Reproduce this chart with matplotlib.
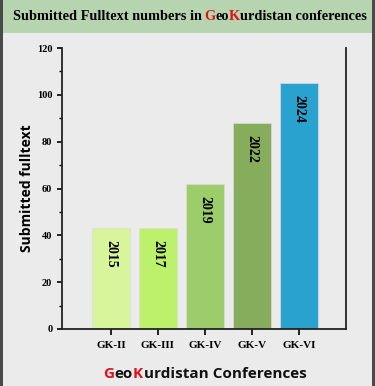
import matplotlib.pyplot as plt
from matplotlib.patches import Rectangle
from matplotlib.ticker import MultipleLocator

conferences = ["GK-II", "GK-III", "GK-IV", "GK-V", "GK-VI"]
years = ["2015", "2017", "2019", "2022", "2024"]
fulltexts = [43, 43, 62, 88, 105]
colors = ["#d8f59b", "#bdf06b", "#9dcc6a", "#86ad5c", "#2aa2cf"]

bg = "#ebebeb"
fig = plt.figure(figsize=(3.75, 3.86), dpi=100, facecolor=bg)

# title band and side borders (behind everything else)
fig.patches.append(Rectangle((0, 1 - 33 / 386), 1, 33 / 386, transform=fig.transFigure,
                             facecolor="#b5d4af", edgecolor="none", zorder=-2))
fig.patches.append(Rectangle((0, 0), 3 / 375, 1, transform=fig.transFigure,
                             facecolor="#4a4a4a", edgecolor="none", zorder=-1))
fig.patches.append(Rectangle((1 - 3 / 375, 0), 3 / 375, 1, transform=fig.transFigure,
                             facecolor="#4a4a4a", edgecolor="none", zorder=-1))

ax = fig.add_axes([62 / 375, 1 - 329 / 386, 284 / 375, 281 / 386])
ax.set_facecolor(bg)

x = list(range(len(conferences)))
ax.bar(x, fulltexts, width=0.8, color=colors, edgecolor="#dcdcdc", linewidth=0.5, zorder=2)

for xi, v, yr in zip(x, fulltexts, years):
    ax.text(xi, v - 5, yr, rotation=-90, ha="center", va="top",
            family="Liberation Serif", fontweight="bold", fontsize=10, zorder=3)

ax.set_xlim(-1.04, 5.0)
ax.set_ylim(0, 120)
ax.set_xticks(x)
ax.set_xticklabels(conferences, family="Liberation Serif", fontweight="bold", fontsize=8)
ax.yaxis.set_major_locator(MultipleLocator(20))
ax.yaxis.set_minor_locator(MultipleLocator(10))
for lab in ax.get_yticklabels():
    lab.set_family("Liberation Serif")
    lab.set_fontweight("bold")
    lab.set_fontsize(7.5)
ax.tick_params(axis="both", direction="out", width=1.2, length=3.5, pad=3.5)
ax.tick_params(axis="y", which="minor", direction="out", width=1.0, length=2)
ax.tick_params(axis="x", length=4, pad=5)

ax.spines["top"].set_visible(False)
for s in ["left", "right", "bottom"]:
    ax.spines[s].set_linewidth(1.3)
    ax.spines[s].set_color("#222222")

ax.set_ylabel("Submitted fulltext", family="Open Sans", fontweight="bold", fontsize=10)
ax.yaxis.set_label_coords(-0.10, 0.5)


def colored_text(fig, x0, y, parts, gap=0.0, kern=0.3, **kw):
    # rainbow-text style: each piece hangs off the right edge of the one before
    t = fig.text(x0, y, parts[0][0], color=parts[0][1], ha="left", va="bottom", **kw)
    for s, c in parts[1:]:
        lead = gap if s.startswith(" ") else 0.0
        t = ax.annotate(s.lstrip(" "), xy=(1, 0), xycoords=t, xytext=(lead + kern, 0),
                        textcoords="offset points", color=c, ha="left", va="bottom",
                        annotation_clip=False, **kw)


red = "#e0101a"
colored_text(fig, 13 / 375, 1 - 23 / 386,
             [("Submitted Fulltext numbers in", "black"), (" G", red), ("eo", "black"),
              ("K", red), ("urdistan conferences", "black")],
             gap=1.6, kern=0.0, family="Liberation Serif", fontweight="bold", fontsize=10.3)
colored_text(fig, 103 / 375, 1 - 381 / 386,
             [("G", red), ("eo", "#111111"), ("K", red), ("urdistan Conferences", "#111111")],
             family="Open Sans", fontweight="bold", fontsize=11)

fig.savefig("out.png", dpi=100, facecolor=bg)
